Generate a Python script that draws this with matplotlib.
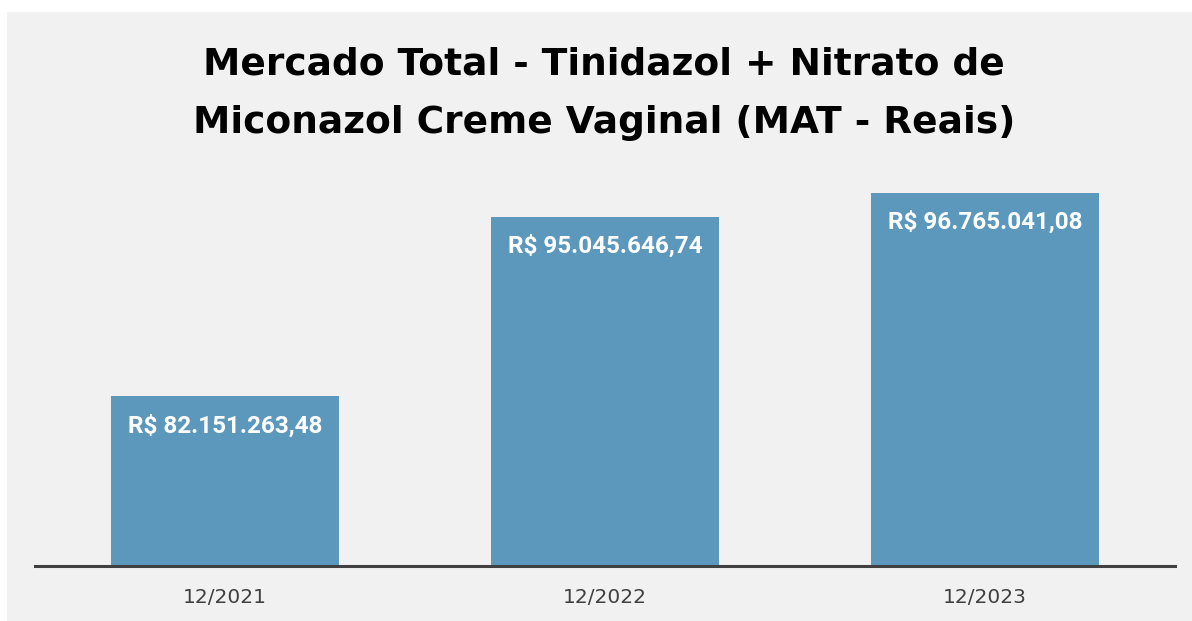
import matplotlib.pyplot as plt
from matplotlib.patches import Rectangle

# data
periods = ['12/2021', '12/2022', '12/2023']
values = [82151263.48, 95045646.74, 96765041.08]
labels = ['R$ 82.151.263,48', 'R$ 95.045.646,74', 'R$ 96.765.041,08']
title = 'Mercado Total - Tinidazol + Nitrato de\nMiconazol Creme Vaginal (MAT - Reais)'

bg = '#f1f1f1'
bar_color = '#5b98bc'

fig = plt.figure(figsize=(11.92, 6.21), dpi=100)
fig.patch.set_facecolor('white')
# gray chart panel
fig.patches.append(Rectangle((7 / 1192, 0), 1 - 7 / 1192, 1 - 12 / 621,
                             transform=fig.transFigure, facecolor=bg,
                             edgecolor='none', zorder=-10))

ax = fig.add_axes([35 / 1192, 1 - 566 / 621, 1140 / 1192, (566 - 147.5) / 621])
ax.set_facecolor('none')

x = range(len(periods))
bars = ax.bar(x, values, width=0.6, color=bar_color, zorder=2)
ax.set_xlim(-0.5, 2.5)
ax.set_ylim(70e6, 100e6)

for b, lab in zip(bars, labels):
    ax.annotate(lab, (b.get_x() + b.get_width() / 2, b.get_height()),
                xytext=(0, -21.5), textcoords='offset points',
                ha='center', va='center', color='white', fontsize=17.5,
                fontweight='bold', family='Roboto', zorder=3)

ax.set_xticks(list(x))
ax.set_xticklabels(periods, fontsize=14.5, color='#404040', family='DejaVu Sans')
ax.tick_params(axis='x', length=0, pad=16)
ax.set_yticks([])
for s in ['top', 'right', 'left']:
    ax.spines[s].set_visible(False)
ax.spines['bottom'].set_color('#404040')
ax.spines['bottom'].set_linewidth(2.2)
ax.spines['bottom'].set_zorder(4)

fig.text(604 / 1192, 1 - 94 / 621, title, ha='center', va='center',
         fontsize=27, fontweight='bold', color='black', linespacing=1.8)

fig.savefig('out.png', dpi=100, facecolor=fig.get_facecolor())
